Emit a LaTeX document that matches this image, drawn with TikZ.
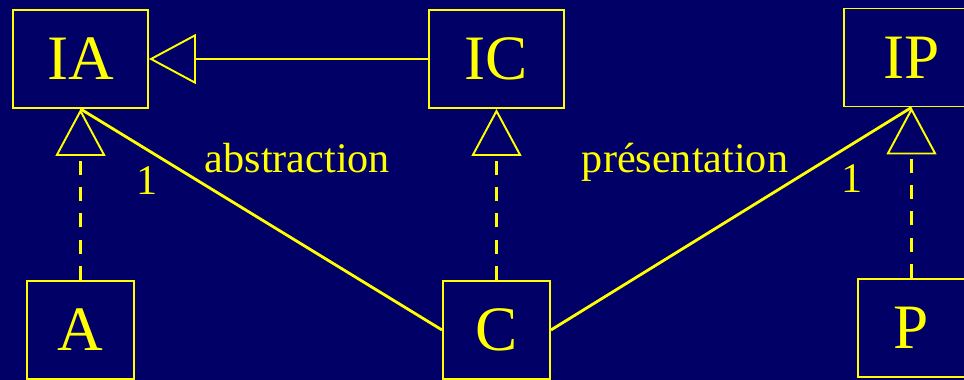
\documentclass[tikz,border=0pt]{standalone}
\usepackage{fontspec}
\setmainfont{Liberation Serif}
\usepackage{xcolor}
\usepackage{tikz}
\usetikzlibrary{arrows.meta}
\definecolor{fond}{RGB}{0,0,102}
\definecolor{trait}{RGB}{255,255,0}

\begin{document}
\begin{tikzpicture}[
  classe/.style={rectangle, draw=trait, line width=1.1pt, text=trait, inner sep=0pt, minimum height=1.96cm, font=\fontsize{36}{40}\selectfont},
  grande/.style={classe, minimum width=2.70cm},
  petite/.style={classe, minimum width=2.14cm},
  etiquette/.style={text=trait, anchor=base, inner sep=0pt, font=\fontsize{24}{28}\selectfont},
  herite/.style={draw=trait, line width=1.6pt, -{Triangle[open, length=0.94cm, width=1.0cm, line width=1.1pt]}},
  realise/.style={herite, dash pattern=on 8pt off 7pt},
  assoc/.style={draw=trait, line width=1.6pt}]
\useasboundingbox (0.00, 0.00) rectangle (19.28, -7.60);
\clip (0.00, 0.00) rectangle (19.28, -7.60);
\fill[fond] (0.00, 0.00) rectangle (19.28, -7.60);
\node[grande] (IA) at (1.61, -1.18) {IA};
\node[grande] (IC) at (9.93, -1.18) {IC};
\node[grande] (IP) at (18.23, -1.15) {IP};
\node[petite] (A) at (1.61, -6.60) {A};
\node[petite] (C) at (9.93, -6.60) {C};
\node[petite] (P) at (18.23, -6.56) {P};
\node[etiquette] (abs) at (5.95, -3.46) {abstraction};
\node[etiquette] (pres) at (13.70, -3.46) {présentation};
\node[etiquette] (cardA) at (2.94, -3.90) {1};
\node[etiquette] (cardP) at (17.04, -3.86) {1};
\draw[herite] (IC) -- (IA);
\draw[realise] (A) -- (IA);
\draw[realise] (C) -- (IC);
\draw[realise] (P) -- (IP);
\draw[assoc] (IA.south) -- (C.west);
\draw[assoc] (C.east) -- (IP.south);
\end{tikzpicture}
\end{document}
